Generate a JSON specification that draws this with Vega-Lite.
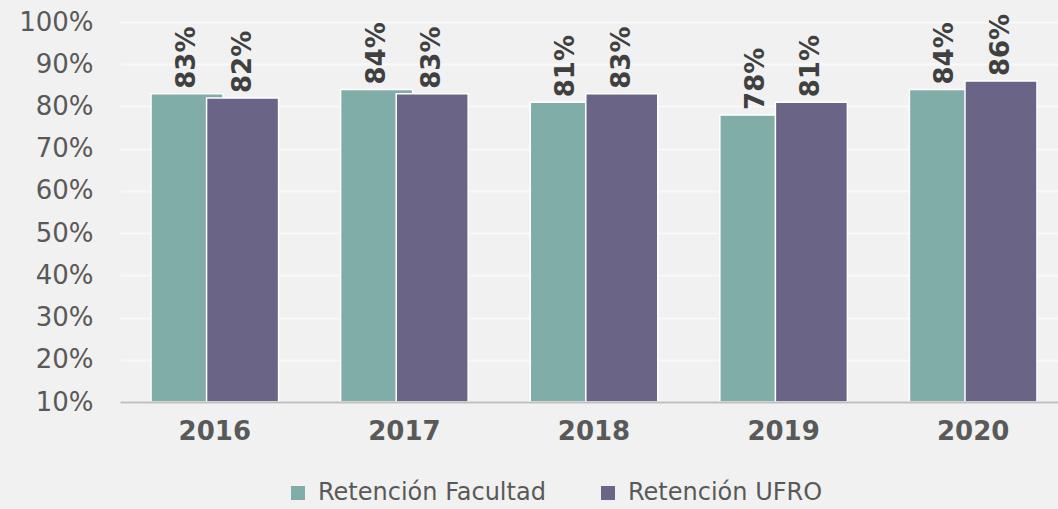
{
  "$schema": "https://vega.github.io/schema/vega-lite/v6.json",
  "width": 938,
  "height": 380,
  "autosize": {"type": "none"},
  "padding": {"left": 120, "top": 22, "right": 0, "bottom": 107},
  "background": "#f1f1f1",
  "config": {
    "view": {"stroke": null},
    "font": "DejaVu Sans"
  },
  "data": {
    "values": [
      {"year": "2016", "serie": "Retención Facultad", "value": 0.83},
      {"year": "2017", "serie": "Retención Facultad", "value": 0.84},
      {"year": "2018", "serie": "Retención Facultad", "value": 0.81},
      {"year": "2019", "serie": "Retención Facultad", "value": 0.78},
      {"year": "2020", "serie": "Retención Facultad", "value": 0.84},
      {"year": "2016", "serie": "Retención UFRO", "value": 0.82},
      {"year": "2017", "serie": "Retención UFRO", "value": 0.83},
      {"year": "2018", "serie": "Retención UFRO", "value": 0.83},
      {"year": "2019", "serie": "Retención UFRO", "value": 0.81},
      {"year": "2020", "serie": "Retención UFRO", "value": 0.86}
    ]
  },
  "encoding": {
    "x": {
      "field": "year",
      "type": "nominal",
      "scale": {"range": [0, 948], "paddingInner": 0.414, "paddingOuter": 0.207},
      "axis": {
        "title": null,
        "labelAngle": 0,
        "labelFontSize": 26,
        "labelFontWeight": "bold",
        "labelColor": "#595959",
        "labelPadding": 16,
        "ticks": false,
        "domainColor": "#bfbfbf",
        "domainWidth": 2,
        "grid": false,
        "zindex": 1
      }
    },
    "xOffset": {
      "field": "serie",
      "type": "nominal",
      "sort": ["Retención Facultad", "Retención UFRO"],
      "scale": {"paddingInner": 0, "paddingOuter": 0}
    },
    "y": {
      "field": "value",
      "type": "quantitative",
      "scale": {"domain": [0.1, 1.0], "nice": false, "zero": false},
      "axis": {
        "title": null,
        "format": ".0%",
        "values": [0.1, 0.2, 0.3, 0.4, 0.5, 0.6, 0.7, 0.8, 0.9, 1.0],
        "labelFontSize": 26,
        "labelColor": "#595959",
        "labelPadding": 27,
        "ticks": false,
        "domain": false,
        "grid": true,
        "gridColor": "#f9f9f9",
        "gridWidth": 2
      }
    }
  },
  "layer": [
    {
      "mark": {"type": "bar", "width": 72, "stroke": "#ffffff", "strokeWidth": 1.5},
      "encoding": {
        "y2": {"datum": 0.1},
        "color": {
          "field": "serie",
          "type": "nominal",
          "sort": ["Retención Facultad", "Retención UFRO"],
          "scale": {"range": ["#80ADA8", "#6A6486"]},
          "legend": {
            "title": null,
            "orient": "none",
            "legendX": 166,
            "legendY": 459,
            "direction": "horizontal",
            "symbolType": "square",
            "symbolSize": 196,
            "symbolStrokeWidth": 0,
            "labelFontSize": 24,
            "labelLimit": 400,
            "labelColor": "#595959",
            "columnPadding": 50,
            "labelOffset": 8
          }
        }
      }
    },
    {
      "mark": {
        "type": "text",
        "angle": -90,
        "align": "left",
        "baseline": "middle",
        "dx": 5,
        "fontSize": 26,
        "fontWeight": "bold",
        "color": "#404040"
      },
      "encoding": {
        "text": {"field": "value", "type": "quantitative", "format": ".0%"}
      }
    }
  ]
}
